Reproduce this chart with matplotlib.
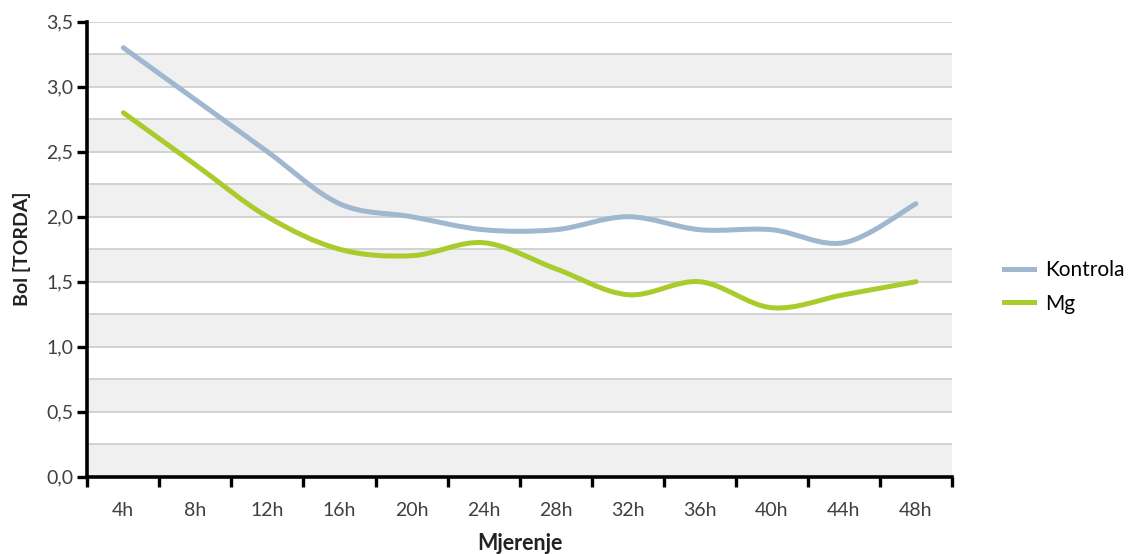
import numpy as np
import matplotlib
matplotlib.use("Agg")
import matplotlib.pyplot as plt
from matplotlib.path import Path
from matplotlib.patches import PathPatch
from matplotlib.lines import Line2D
from matplotlib.ticker import FuncFormatter

# data
hours = ["4h", "8h", "12h", "16h", "20h", "24h", "28h", "32h", "36h", "40h", "44h", "48h"]
kontrola = [3.3, 2.9, 2.5, 2.1, 2.0, 1.9, 1.9, 2.0, 1.9, 1.9, 1.8, 2.1]
mg = [2.8, 2.4, 2.0, 1.75, 1.7, 1.8, 1.6, 1.4, 1.5, 1.3, 1.4, 1.5]

plt.rcParams["font.family"] = ["Lato", "DejaVu Sans"]

fig = plt.figure(figsize=(11.31, 5.54), dpi=100)
ax = fig.add_axes([0.0772, 0.1395, 0.7645, 0.8213])


def smooth_path(ys):
    # excel-style smoothed line: cubic bezier through every point
    pts = np.column_stack([np.arange(len(ys)), ys]).astype(float)
    verts = [pts[0]]
    codes = [Path.MOVETO]
    n = len(pts)
    for i in range(n - 1):
        p0 = pts[max(i - 1, 0)]
        p1 = pts[i]
        p2 = pts[i + 1]
        p3 = pts[min(i + 2, n - 1)]
        c1 = p1 + (p2 - p0) / 6.0
        c2 = p2 - (p3 - p1) / 6.0
        verts += [c1, c2, p2]
        codes += [Path.CURVE4] * 3
    return Path(verts, codes)


blue = "#9fb7cf"
green = "#aacb2c"

# alternating bands and grid lines
for lo in np.arange(0, 3.5, 0.5):
    ax.axhspan(lo, lo + 0.25, color="#f0f0f0", zorder=0, lw=0)
for y in np.arange(0.25, 3.51, 0.25):
    ax.axhline(y, color="#cccccc", lw=1.2, zorder=1)

for ys, col in [(kontrola, blue), (mg, green)]:
    ax.add_patch(PathPatch(smooth_path(ys), fill=False, edgecolor=col, lw=3.6,
                           capstyle="round", joinstyle="round", zorder=3))

ax.set_xlim(-0.5, len(hours) - 0.5)
ax.set_ylim(0, 3.5)

ax.set_xticks(np.arange(-0.5, len(hours), 1))
ax.set_xticklabels([])
ax.set_xticks(np.arange(len(hours)), minor=True)
ax.set_xticklabels(hours, minor=True)
ax.tick_params(axis="x", which="major", direction="out", length=7, width=2.4, color="black")
ax.tick_params(axis="x", which="minor", length=0, pad=18, labelsize=14, labelcolor="#404040")

ax.set_yticks(np.arange(0, 3.51, 0.5))
ax.yaxis.set_major_formatter(FuncFormatter(lambda v, p: f"{v:.1f}".replace(".", ",")))
ax.tick_params(axis="y", direction="out", length=7, width=2.4, color="black",
               labelsize=14, labelcolor="#404040", pad=3)

for s in ["top", "right"]:
    ax.spines[s].set_visible(False)
for s in ["left", "bottom"]:
    ax.spines[s].set_linewidth(2.6)
    ax.spines[s].set_zorder(4)

ax.set_xlabel("Mjerenje", fontsize=15.5, fontweight="bold", labelpad=10, color="#222222")
ax.set_ylabel("Bol [TORDA]", fontsize=14, fontweight="bold", labelpad=11, color="#222222")

handles = [Line2D([], [], color=blue, lw=3.6), Line2D([], [], color=green, lw=3.6)]
fig.legend(handles, ["Kontrola", "Mg"], loc="center left", bbox_to_anchor=(0.871, 0.482),
           frameon=False, fontsize=15, handlelength=1.45, labelspacing=0.65,
           handletextpad=0.55)

fig.savefig("out.png", dpi=100)
